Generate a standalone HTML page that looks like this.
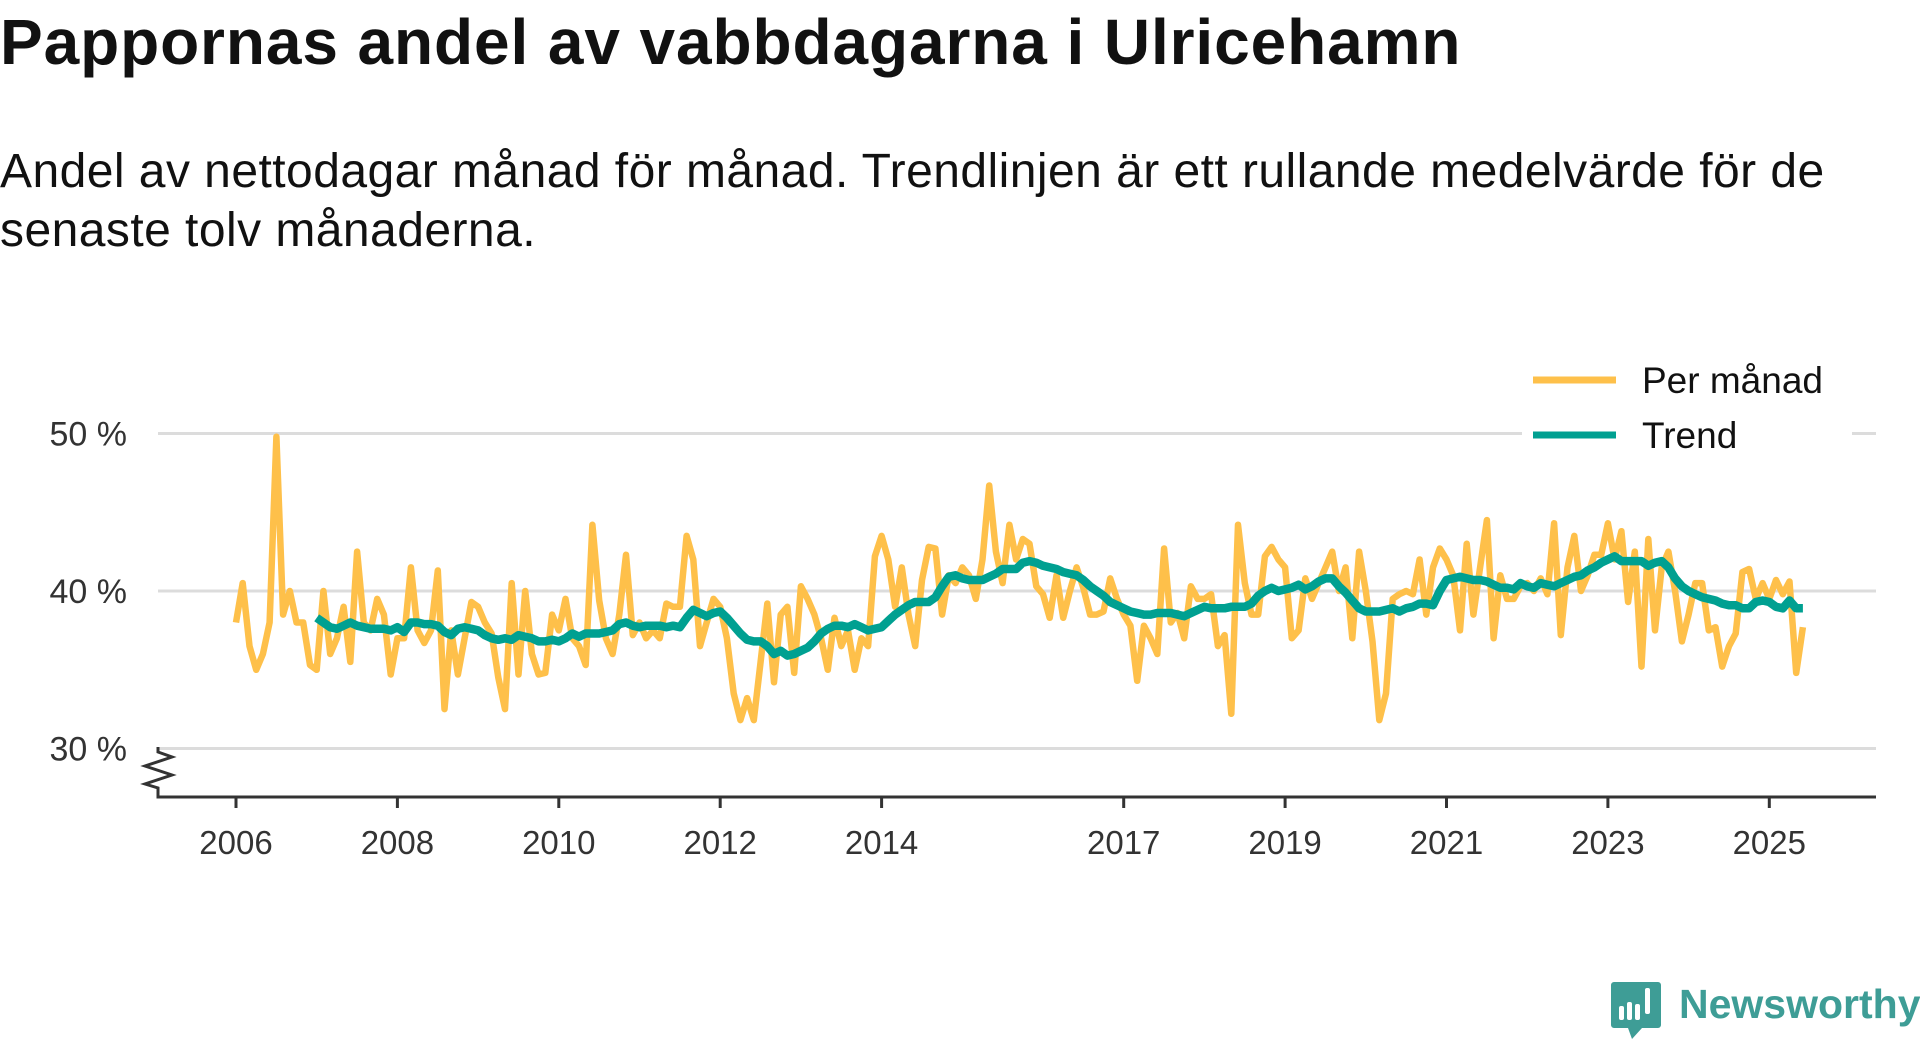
<!DOCTYPE html>
<html><head><meta charset="utf-8">
<style>
html,body{margin:0;padding:0;background:#fff;}
body{width:1920px;height:1040px;overflow:hidden;position:relative;font-family:"Liberation Sans",sans-serif;color:#111;}
#title{position:absolute;left:0;top:5px;font-size:64px;font-weight:bold;margin:0;letter-spacing:0.9px;}
#subtitle{position:absolute;left:0;top:142px;font-size:48px;line-height:59px;width:1870px;margin:0;color:#111;letter-spacing:0.45px;}
svg{position:absolute;left:0;top:0;}
</style></head>
<body>
<h1 id="title">Pappornas andel av vabbdagarna i Ulricehamn</h1>
<p id="subtitle">Andel av nettodagar månad för månad. Trendlinjen är ett rullande medelvärde för de senaste tolv månaderna.</p>
<svg id="chart" width="1920" height="1040"></svg>
<script>
const monthly = [
38,40.5,36.5,35,36,38,49.8,38.5,40,38,38,35.3,
35,40,36,37,39,35.5,42.5,38,37.5,39.5,38.5,34.7,
37,37,41.5,37.5,36.7,37.5,41.3,32.5,37.5,34.7,37,39.3,
39,38,37.3,34.5,32.5,40.5,34.7,40,36,34.7,34.8,38.5,
37.5,39.5,37,36.5,35.3,44.2,39.4,37,36,38.5,42.3,37.2,
38,37,37.5,37,39.2,39,39,43.5,42,36.5,38,39.5,
39,37,33.5,31.8,33.2,31.8,35.5,39.2,34.2,38.5,39,34.8,
40.3,39.5,38.5,37,35,38.3,36.5,37.5,35,37,36.5,42.2,
43.5,42,39,41.5,38.5,36.5,40.7,42.8,42.7,38.5,41,40.5,
41.5,41,39.5,42,46.7,42.5,40.5,44.2,42,43.3,43,40.3,
39.8,38.3,41,38.3,40,41.5,40.2,38.5,38.5,38.7,40.8,39.5,
38.5,37.8,34.3,37.8,37,36,42.7,38,38.6,37,40.3,39.5,
39.5,39.8,36.5,37.2,32.2,44.2,40.5,38.5,38.5,42.2,42.8,42,
41.5,37,37.5,40.8,39.5,40.5,41.5,42.5,40,41.5,37,42.5,
40,36.8,31.8,33.5,39.5,39.8,40,39.8,42,38.5,41.5,42.7,
42,41,37.5,43,38.5,41.5,44.5,37,41,39.5,39.5,40.3,
40.5,40,40.8,39.8,44.3,37.2,41.5,43.5,40,41,42.3,42.3,
44.3,42,43.8,39.3,42.5,35.2,43.3,37.5,41.5,42.5,40,36.8,
38.5,40.5,40.5,37.5,37.7,35.2,36.5,37.3,41.2,41.4,39.5,40.5,
39.5,40.7,39.8,40.6,34.8,37.7
];
const trend = [
38.3,38.0,37.7,37.6,37.8,38.0,37.8,37.7,37.6,37.6,37.6,37.5,
37.7,37.4,38.0,38.0,37.9,37.9,37.8,37.4,37.2,37.6,37.7,37.6,
37.5,37.2,37.0,36.9,37.0,36.9,37.2,37.1,37.0,36.8,36.8,36.9,
36.8,37.0,37.3,37.1,37.3,37.3,37.3,37.4,37.5,37.9,38.0,37.8,
37.7,37.8,37.8,37.8,37.7,37.8,37.7,38.3,38.8,38.6,38.4,38.6,
38.7,38.3,37.8,37.3,36.9,36.8,36.8,36.5,36.0,36.2,35.9,36.0,
36.2,36.4,36.8,37.3,37.6,37.8,37.8,37.7,37.9,37.7,37.5,37.6,
37.7,38.1,38.5,38.8,39.1,39.3,39.3,39.3,39.6,40.3,40.9,41.0,
40.8,40.7,40.7,40.7,40.9,41.1,41.4,41.4,41.4,41.8,41.9,41.8,
41.6,41.5,41.4,41.2,41.1,41.0,40.7,40.3,40.0,39.7,39.3,39.1,
38.9,38.7,38.6,38.5,38.5,38.6,38.6,38.6,38.5,38.4,38.6,38.8,
39.0,38.9,38.9,38.9,39.0,39.0,39.0,39.2,39.7,40.0,40.2,40.0,
40.1,40.2,40.4,40.1,40.3,40.6,40.8,40.8,40.3,39.9,39.4,38.9,
38.7,38.7,38.7,38.8,38.9,38.7,38.9,39.0,39.2,39.2,39.1,40.0,
40.7,40.8,40.9,40.8,40.7,40.7,40.6,40.4,40.2,40.2,40.1,40.5,
40.3,40.2,40.5,40.4,40.3,40.5,40.7,40.9,41.0,41.3,41.5,41.8,
42.0,42.2,41.9,41.9,41.9,41.9,41.6,41.8,41.9,41.5,40.8,40.3,
40.0,39.8,39.6,39.5,39.4,39.2,39.1,39.1,38.9,38.9,39.3,39.4,
39.3,39.0,38.9,39.4,38.9,38.9
];
const startYear = 2006;
const trendStartYear = 2007;
const yTicks = [30, 40, 50];
const xTickYears = [2006, 2008, 2010, 2012, 2014, 2017, 2019, 2021, 2023, 2025];

const NS = "http://www.w3.org/2000/svg";
const svg = document.getElementById('chart');
const X0 = 236, PX_PER_YEAR = 80.7;
const xScale = t => X0 + (t - startYear) * PX_PER_YEAR;
const yScale = v => 591 - (v - 40) * 15.75;
function mk(tag, attrs){const e=document.createElementNS(NS,tag);for(const k in attrs)e.setAttribute(k,attrs[k]);svg.appendChild(e);return e;}

yTicks.forEach(v=>{
  const g = mk('line',{x1:158,x2:1876,y1:yScale(v),y2:yScale(v),stroke:'#dcdcdc','stroke-width':3});
  
  
  const t = mk('text',{x:127,y:yScale(v)+12,'text-anchor':'end','font-size':34,fill:'#333','font-family':'Liberation Sans, sans-serif'});
  t.textContent = v+' %';
  
  
});
const ax = mk('path',{d:'M158 747 L158 752 L172 757 L145 766 L172 775 L145 784 L158 788 L158 797 L1876 797',fill:'none',stroke:'#333','stroke-width':3});


xTickYears.forEach(yr=>{
  const x = xScale(yr);
  const tk = mk('line',{x1:x,x2:x,y1:797,y2:808,stroke:'#333','stroke-width':3});
  
  
  const t = mk('text',{x:x,y:854,'text-anchor':'middle','font-size':33,fill:'#333','font-family':'Liberation Sans, sans-serif'});
  t.textContent = yr;
  
  
});
function linePath(arr, sy){return arr.map((v,i)=>(i?'L':'M')+xScale(sy+i/12).toFixed(1)+' '+yScale(v).toFixed(1)).join(' ');}
const lm = mk('path',{d:linePath(monthly,startYear),fill:'none',stroke:'#fec04a','stroke-width':6.5,'stroke-linejoin':'round'});


const lt = mk('path',{d:linePath(trend,trendStartYear),fill:'none',stroke:'#00a091','stroke-width':8.5,'stroke-linejoin':'round'});



// legend
const lbg = mk('rect',{x:1522,y:350,width:330,height:110,fill:'#fff'});


[['Per månad','#fec04a',380],['Trend','#00a091',435]].forEach(([lab,col,y],i)=>{
  const l = mk('line',{x1:1533,x2:1616,y1:y,y2:y,stroke:col,'stroke-width':7});
  
  
  const t = mk('text',{x:1642,y:y+13,'font-size':37,fill:'#111','font-family':'Liberation Sans, sans-serif'});
  t.textContent = lab;
  
  
});

// logo
const icon = mk('path',{d:'M1614 982 h44 a3 3 0 0 1 3 3 v40 a3 3 0 0 1 -3 3 h-16 l-10 11 l-4 -11 h-14 a3 3 0 0 1 -3 -3 v-40 a3 3 0 0 1 3 -3 z',fill:'#3e9d96'});


[[1619,1006,5,14],[1627,1002,5,18],[1635,1004,5,16],[1645,988,5,26]].forEach((r,i)=>{
  const b = mk('rect',{x:r[0],y:r[1],width:r[2],height:r[3],rx:2,fill:'#fff'});
  
  
});
const lg = mk('text',{x:1679,y:1018,'font-size':41,'font-weight':'bold',fill:'#3e9d96','font-family':'Liberation Sans, sans-serif'});
lg.textContent = 'Newsworthy';


</script>
</body></html>
